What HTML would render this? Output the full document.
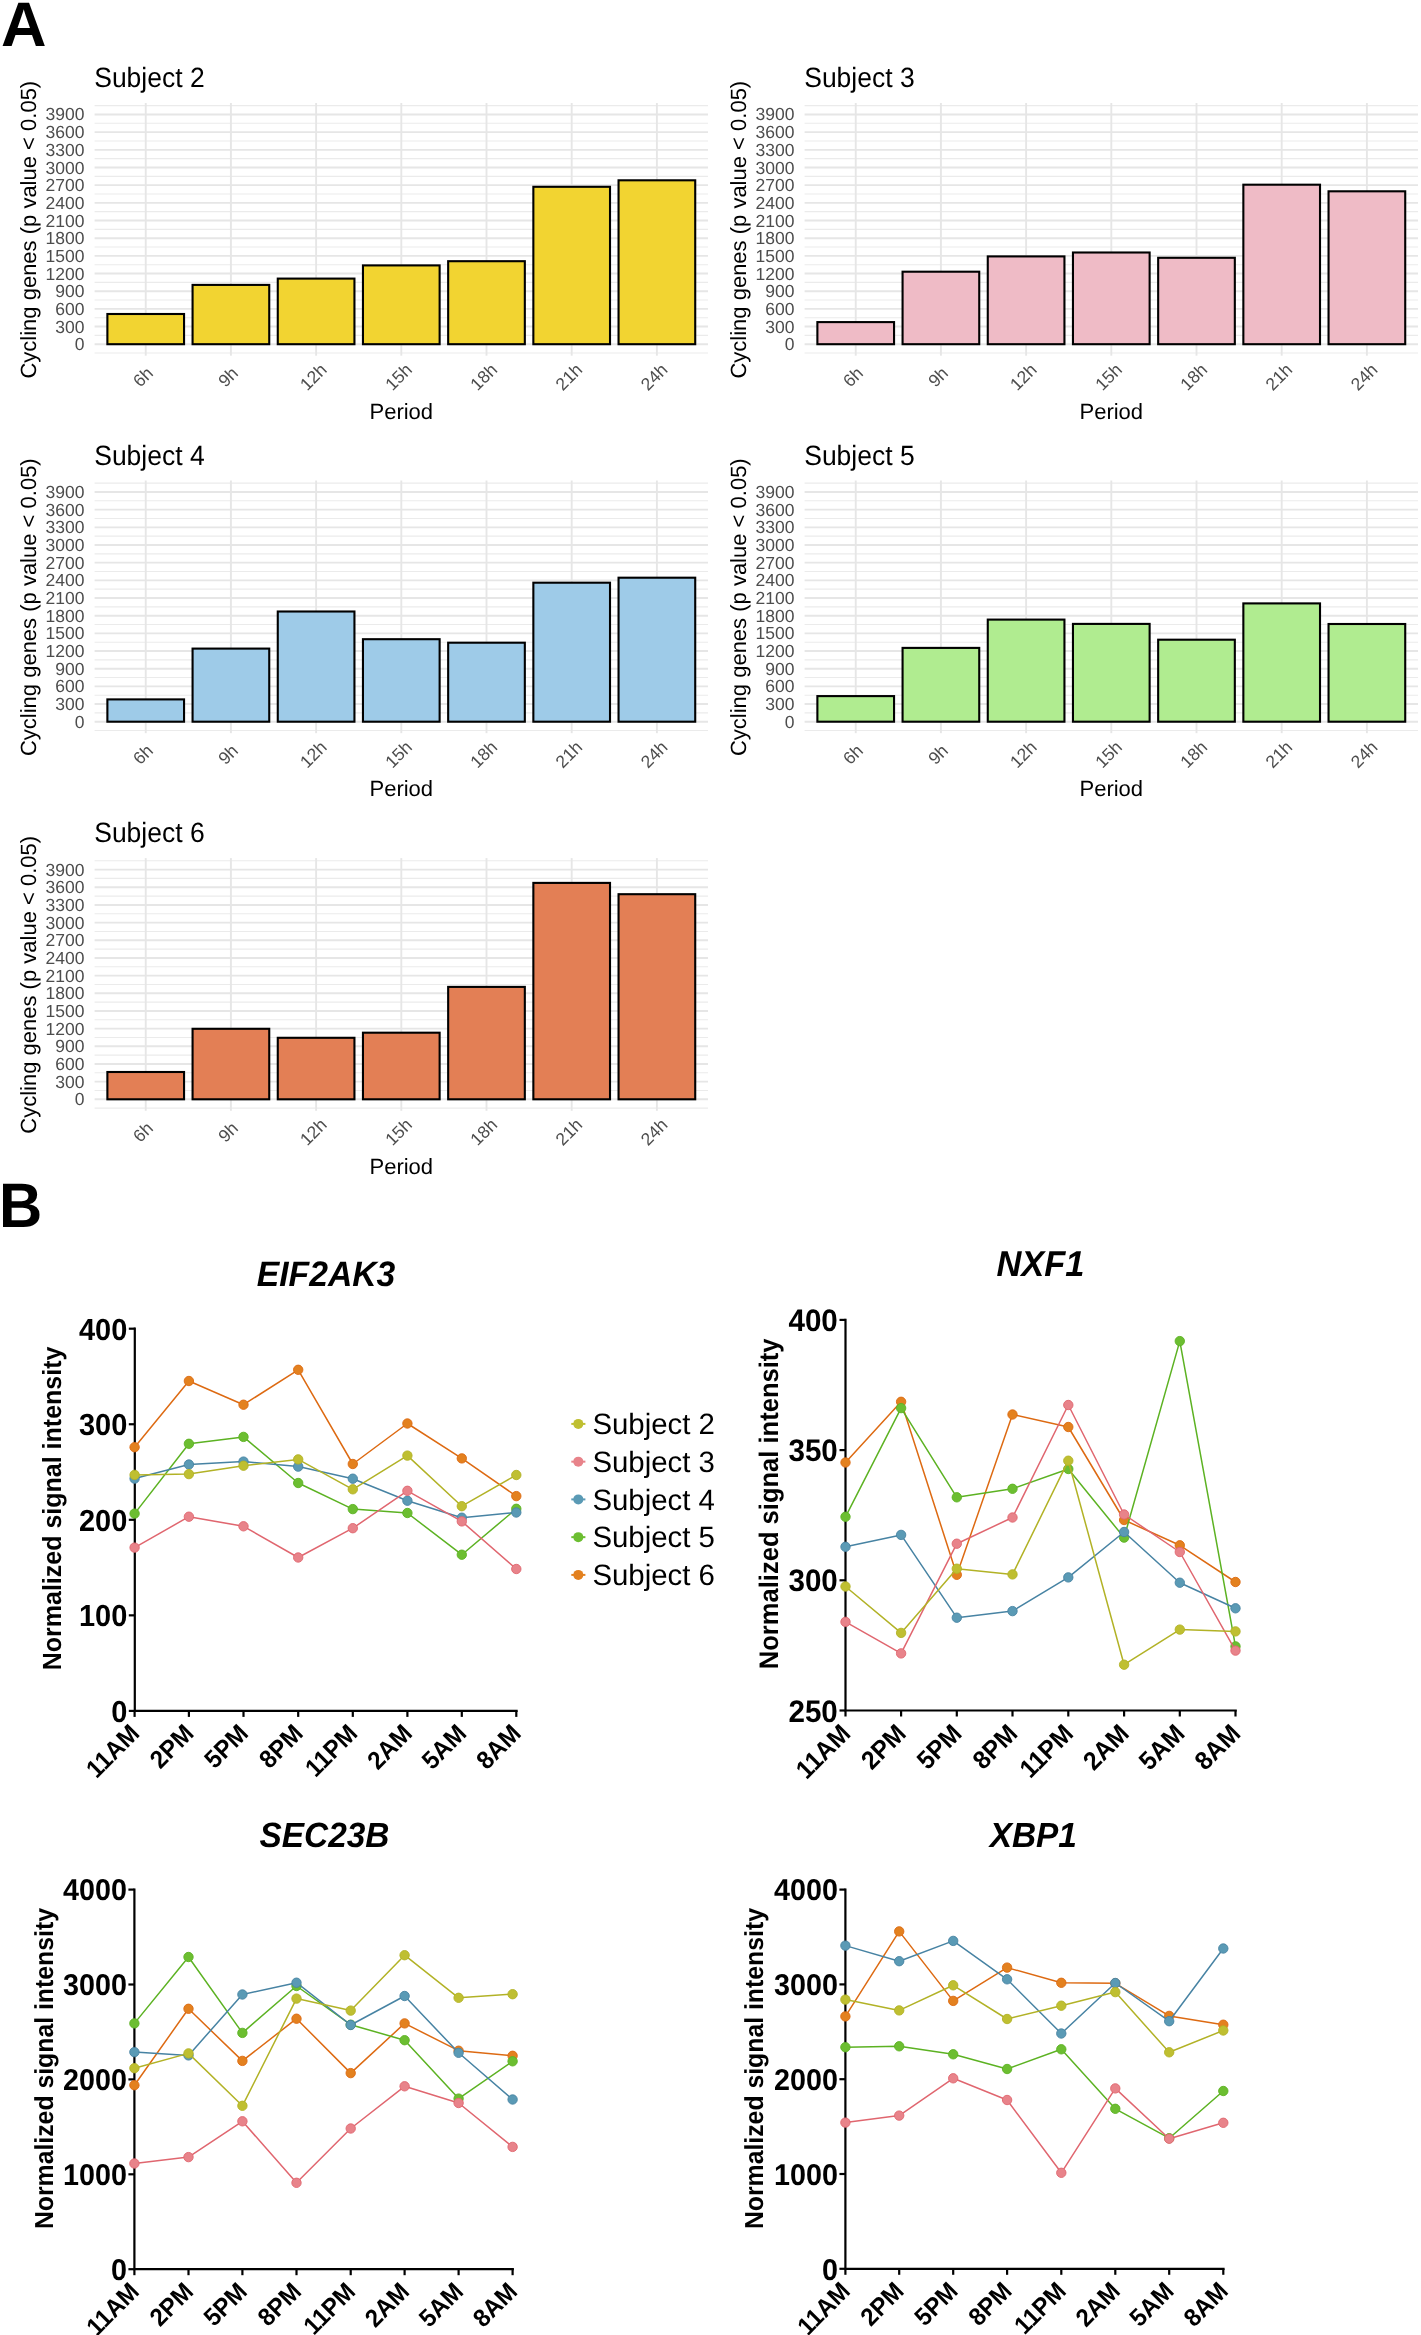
<!DOCTYPE html>
<html><head><meta charset="utf-8"><style>
html,body{margin:0;padding:0;background:#fff;}
svg{display:block;font-family:"Liberation Sans", sans-serif;will-change:transform;text-rendering:geometricPrecision;}
</style></head><body>
<svg width="1421" height="2335" viewBox="0 0 1421 2335">
<rect width="1421" height="2335" fill="#fff"/>
<g transform="translate(0,0)">
<line x1="94.6" x2="708.0" y1="353.03" y2="353.03" stroke="#EBEBEB" stroke-width="1.1"/>
<line x1="94.6" x2="708.0" y1="335.37" y2="335.37" stroke="#EBEBEB" stroke-width="1.1"/>
<line x1="94.6" x2="708.0" y1="317.69" y2="317.69" stroke="#EBEBEB" stroke-width="1.1"/>
<line x1="94.6" x2="708.0" y1="300.02" y2="300.02" stroke="#EBEBEB" stroke-width="1.1"/>
<line x1="94.6" x2="708.0" y1="282.36" y2="282.36" stroke="#EBEBEB" stroke-width="1.1"/>
<line x1="94.6" x2="708.0" y1="264.69" y2="264.69" stroke="#EBEBEB" stroke-width="1.1"/>
<line x1="94.6" x2="708.0" y1="247.01" y2="247.01" stroke="#EBEBEB" stroke-width="1.1"/>
<line x1="94.6" x2="708.0" y1="229.34" y2="229.34" stroke="#EBEBEB" stroke-width="1.1"/>
<line x1="94.6" x2="708.0" y1="211.67" y2="211.67" stroke="#EBEBEB" stroke-width="1.1"/>
<line x1="94.6" x2="708.0" y1="194.00" y2="194.00" stroke="#EBEBEB" stroke-width="1.1"/>
<line x1="94.6" x2="708.0" y1="176.33" y2="176.33" stroke="#EBEBEB" stroke-width="1.1"/>
<line x1="94.6" x2="708.0" y1="158.66" y2="158.66" stroke="#EBEBEB" stroke-width="1.1"/>
<line x1="94.6" x2="708.0" y1="140.99" y2="140.99" stroke="#EBEBEB" stroke-width="1.1"/>
<line x1="94.6" x2="708.0" y1="123.32" y2="123.32" stroke="#EBEBEB" stroke-width="1.1"/>
<line x1="94.6" x2="708.0" y1="105.65" y2="105.65" stroke="#EBEBEB" stroke-width="1.1"/>
<line x1="94.6" x2="708.0" y1="344.20" y2="344.20" stroke="#E6E6E6" stroke-width="1.9"/>
<line x1="94.6" x2="708.0" y1="326.53" y2="326.53" stroke="#E6E6E6" stroke-width="1.9"/>
<line x1="94.6" x2="708.0" y1="308.86" y2="308.86" stroke="#E6E6E6" stroke-width="1.9"/>
<line x1="94.6" x2="708.0" y1="291.19" y2="291.19" stroke="#E6E6E6" stroke-width="1.9"/>
<line x1="94.6" x2="708.0" y1="273.52" y2="273.52" stroke="#E6E6E6" stroke-width="1.9"/>
<line x1="94.6" x2="708.0" y1="255.85" y2="255.85" stroke="#E6E6E6" stroke-width="1.9"/>
<line x1="94.6" x2="708.0" y1="238.18" y2="238.18" stroke="#E6E6E6" stroke-width="1.9"/>
<line x1="94.6" x2="708.0" y1="220.51" y2="220.51" stroke="#E6E6E6" stroke-width="1.9"/>
<line x1="94.6" x2="708.0" y1="202.84" y2="202.84" stroke="#E6E6E6" stroke-width="1.9"/>
<line x1="94.6" x2="708.0" y1="185.17" y2="185.17" stroke="#E6E6E6" stroke-width="1.9"/>
<line x1="94.6" x2="708.0" y1="167.50" y2="167.50" stroke="#E6E6E6" stroke-width="1.9"/>
<line x1="94.6" x2="708.0" y1="149.83" y2="149.83" stroke="#E6E6E6" stroke-width="1.9"/>
<line x1="94.6" x2="708.0" y1="132.16" y2="132.16" stroke="#E6E6E6" stroke-width="1.9"/>
<line x1="94.6" x2="708.0" y1="114.49" y2="114.49" stroke="#E6E6E6" stroke-width="1.9"/>
<line x1="145.72" x2="145.72" y1="103.00" y2="355.69" stroke="#E6E6E6" stroke-width="1.9"/>
<line x1="230.91" x2="230.91" y1="103.00" y2="355.69" stroke="#E6E6E6" stroke-width="1.9"/>
<line x1="316.11" x2="316.11" y1="103.00" y2="355.69" stroke="#E6E6E6" stroke-width="1.9"/>
<line x1="401.30" x2="401.30" y1="103.00" y2="355.69" stroke="#E6E6E6" stroke-width="1.9"/>
<line x1="486.49" x2="486.49" y1="103.00" y2="355.69" stroke="#E6E6E6" stroke-width="1.9"/>
<line x1="571.69" x2="571.69" y1="103.00" y2="355.69" stroke="#E6E6E6" stroke-width="1.9"/>
<line x1="656.88" x2="656.88" y1="103.00" y2="355.69" stroke="#E6E6E6" stroke-width="1.9"/>
<rect x="107.38" y="314.00" width="76.67" height="30.20" fill="#F2D431" stroke="#000" stroke-width="2.1"/>
<rect x="192.57" y="284.90" width="76.67" height="59.30" fill="#F2D431" stroke="#000" stroke-width="2.1"/>
<rect x="277.77" y="278.60" width="76.67" height="65.60" fill="#F2D431" stroke="#000" stroke-width="2.1"/>
<rect x="362.96" y="265.40" width="76.67" height="78.80" fill="#F2D431" stroke="#000" stroke-width="2.1"/>
<rect x="448.16" y="261.20" width="76.67" height="83.00" fill="#F2D431" stroke="#000" stroke-width="2.1"/>
<rect x="533.35" y="186.80" width="76.67" height="157.40" fill="#F2D431" stroke="#000" stroke-width="2.1"/>
<rect x="618.55" y="180.30" width="76.67" height="163.90" fill="#F2D431" stroke="#000" stroke-width="2.1"/>
<text x="84.5" y="350.20" text-anchor="end" font-size="17.5" fill="#4D4D4D">0</text>
<text x="84.5" y="332.53" text-anchor="end" font-size="17.5" fill="#4D4D4D">300</text>
<text x="84.5" y="314.86" text-anchor="end" font-size="17.5" fill="#4D4D4D">600</text>
<text x="84.5" y="297.19" text-anchor="end" font-size="17.5" fill="#4D4D4D">900</text>
<text x="84.5" y="279.52" text-anchor="end" font-size="17.5" fill="#4D4D4D">1200</text>
<text x="84.5" y="261.85" text-anchor="end" font-size="17.5" fill="#4D4D4D">1500</text>
<text x="84.5" y="244.18" text-anchor="end" font-size="17.5" fill="#4D4D4D">1800</text>
<text x="84.5" y="226.51" text-anchor="end" font-size="17.5" fill="#4D4D4D">2100</text>
<text x="84.5" y="208.84" text-anchor="end" font-size="17.5" fill="#4D4D4D">2400</text>
<text x="84.5" y="191.17" text-anchor="end" font-size="17.5" fill="#4D4D4D">2700</text>
<text x="84.5" y="173.50" text-anchor="end" font-size="17.5" fill="#4D4D4D">3000</text>
<text x="84.5" y="155.83" text-anchor="end" font-size="17.5" fill="#4D4D4D">3300</text>
<text x="84.5" y="138.16" text-anchor="end" font-size="17.5" fill="#4D4D4D">3600</text>
<text x="84.5" y="120.49" text-anchor="end" font-size="17.5" fill="#4D4D4D">3900</text>
<text transform="translate(142.92,376.9) rotate(-45)" text-anchor="middle" dominant-baseline="central" font-size="17.5" fill="#4D4D4D">6h</text>
<text transform="translate(228.11,376.9) rotate(-45)" text-anchor="middle" dominant-baseline="central" font-size="17.5" fill="#4D4D4D">9h</text>
<text transform="translate(313.31,376.9) rotate(-45)" text-anchor="middle" dominant-baseline="central" font-size="17.5" fill="#4D4D4D">12h</text>
<text transform="translate(398.50,376.9) rotate(-45)" text-anchor="middle" dominant-baseline="central" font-size="17.5" fill="#4D4D4D">15h</text>
<text transform="translate(483.69,376.9) rotate(-45)" text-anchor="middle" dominant-baseline="central" font-size="17.5" fill="#4D4D4D">18h</text>
<text transform="translate(568.89,376.9) rotate(-45)" text-anchor="middle" dominant-baseline="central" font-size="17.5" fill="#4D4D4D">21h</text>
<text transform="translate(654.08,376.9) rotate(-45)" text-anchor="middle" dominant-baseline="central" font-size="17.5" fill="#4D4D4D">24h</text>
<text x="401.3" y="418.5" text-anchor="middle" font-size="22" fill="#000">Period</text>
<text transform="translate(36.2,229.7) rotate(-90)" text-anchor="middle" font-size="22" fill="#000">Cycling genes (p value &lt; 0.05)</text>
<text transform="translate(94.2,87) scale(1,1.05)" font-size="26.5" fill="#000">Subject 2</text>
</g>
<g transform="translate(710,0)">
<line x1="94.6" x2="708.0" y1="353.03" y2="353.03" stroke="#EBEBEB" stroke-width="1.1"/>
<line x1="94.6" x2="708.0" y1="335.37" y2="335.37" stroke="#EBEBEB" stroke-width="1.1"/>
<line x1="94.6" x2="708.0" y1="317.69" y2="317.69" stroke="#EBEBEB" stroke-width="1.1"/>
<line x1="94.6" x2="708.0" y1="300.02" y2="300.02" stroke="#EBEBEB" stroke-width="1.1"/>
<line x1="94.6" x2="708.0" y1="282.36" y2="282.36" stroke="#EBEBEB" stroke-width="1.1"/>
<line x1="94.6" x2="708.0" y1="264.69" y2="264.69" stroke="#EBEBEB" stroke-width="1.1"/>
<line x1="94.6" x2="708.0" y1="247.01" y2="247.01" stroke="#EBEBEB" stroke-width="1.1"/>
<line x1="94.6" x2="708.0" y1="229.34" y2="229.34" stroke="#EBEBEB" stroke-width="1.1"/>
<line x1="94.6" x2="708.0" y1="211.67" y2="211.67" stroke="#EBEBEB" stroke-width="1.1"/>
<line x1="94.6" x2="708.0" y1="194.00" y2="194.00" stroke="#EBEBEB" stroke-width="1.1"/>
<line x1="94.6" x2="708.0" y1="176.33" y2="176.33" stroke="#EBEBEB" stroke-width="1.1"/>
<line x1="94.6" x2="708.0" y1="158.66" y2="158.66" stroke="#EBEBEB" stroke-width="1.1"/>
<line x1="94.6" x2="708.0" y1="140.99" y2="140.99" stroke="#EBEBEB" stroke-width="1.1"/>
<line x1="94.6" x2="708.0" y1="123.32" y2="123.32" stroke="#EBEBEB" stroke-width="1.1"/>
<line x1="94.6" x2="708.0" y1="105.65" y2="105.65" stroke="#EBEBEB" stroke-width="1.1"/>
<line x1="94.6" x2="708.0" y1="344.20" y2="344.20" stroke="#E6E6E6" stroke-width="1.9"/>
<line x1="94.6" x2="708.0" y1="326.53" y2="326.53" stroke="#E6E6E6" stroke-width="1.9"/>
<line x1="94.6" x2="708.0" y1="308.86" y2="308.86" stroke="#E6E6E6" stroke-width="1.9"/>
<line x1="94.6" x2="708.0" y1="291.19" y2="291.19" stroke="#E6E6E6" stroke-width="1.9"/>
<line x1="94.6" x2="708.0" y1="273.52" y2="273.52" stroke="#E6E6E6" stroke-width="1.9"/>
<line x1="94.6" x2="708.0" y1="255.85" y2="255.85" stroke="#E6E6E6" stroke-width="1.9"/>
<line x1="94.6" x2="708.0" y1="238.18" y2="238.18" stroke="#E6E6E6" stroke-width="1.9"/>
<line x1="94.6" x2="708.0" y1="220.51" y2="220.51" stroke="#E6E6E6" stroke-width="1.9"/>
<line x1="94.6" x2="708.0" y1="202.84" y2="202.84" stroke="#E6E6E6" stroke-width="1.9"/>
<line x1="94.6" x2="708.0" y1="185.17" y2="185.17" stroke="#E6E6E6" stroke-width="1.9"/>
<line x1="94.6" x2="708.0" y1="167.50" y2="167.50" stroke="#E6E6E6" stroke-width="1.9"/>
<line x1="94.6" x2="708.0" y1="149.83" y2="149.83" stroke="#E6E6E6" stroke-width="1.9"/>
<line x1="94.6" x2="708.0" y1="132.16" y2="132.16" stroke="#E6E6E6" stroke-width="1.9"/>
<line x1="94.6" x2="708.0" y1="114.49" y2="114.49" stroke="#E6E6E6" stroke-width="1.9"/>
<line x1="145.72" x2="145.72" y1="103.00" y2="355.69" stroke="#E6E6E6" stroke-width="1.9"/>
<line x1="230.91" x2="230.91" y1="103.00" y2="355.69" stroke="#E6E6E6" stroke-width="1.9"/>
<line x1="316.11" x2="316.11" y1="103.00" y2="355.69" stroke="#E6E6E6" stroke-width="1.9"/>
<line x1="401.30" x2="401.30" y1="103.00" y2="355.69" stroke="#E6E6E6" stroke-width="1.9"/>
<line x1="486.49" x2="486.49" y1="103.00" y2="355.69" stroke="#E6E6E6" stroke-width="1.9"/>
<line x1="571.69" x2="571.69" y1="103.00" y2="355.69" stroke="#E6E6E6" stroke-width="1.9"/>
<line x1="656.88" x2="656.88" y1="103.00" y2="355.69" stroke="#E6E6E6" stroke-width="1.9"/>
<rect x="107.38" y="322.10" width="76.67" height="22.10" fill="#EFBBC6" stroke="#000" stroke-width="2.1"/>
<rect x="192.57" y="271.70" width="76.67" height="72.50" fill="#EFBBC6" stroke="#000" stroke-width="2.1"/>
<rect x="277.77" y="256.40" width="76.67" height="87.80" fill="#EFBBC6" stroke="#000" stroke-width="2.1"/>
<rect x="362.96" y="252.50" width="76.67" height="91.70" fill="#EFBBC6" stroke="#000" stroke-width="2.1"/>
<rect x="448.16" y="257.80" width="76.67" height="86.40" fill="#EFBBC6" stroke="#000" stroke-width="2.1"/>
<rect x="533.35" y="184.70" width="76.67" height="159.50" fill="#EFBBC6" stroke="#000" stroke-width="2.1"/>
<rect x="618.55" y="191.30" width="76.67" height="152.90" fill="#EFBBC6" stroke="#000" stroke-width="2.1"/>
<text x="84.5" y="350.20" text-anchor="end" font-size="17.5" fill="#4D4D4D">0</text>
<text x="84.5" y="332.53" text-anchor="end" font-size="17.5" fill="#4D4D4D">300</text>
<text x="84.5" y="314.86" text-anchor="end" font-size="17.5" fill="#4D4D4D">600</text>
<text x="84.5" y="297.19" text-anchor="end" font-size="17.5" fill="#4D4D4D">900</text>
<text x="84.5" y="279.52" text-anchor="end" font-size="17.5" fill="#4D4D4D">1200</text>
<text x="84.5" y="261.85" text-anchor="end" font-size="17.5" fill="#4D4D4D">1500</text>
<text x="84.5" y="244.18" text-anchor="end" font-size="17.5" fill="#4D4D4D">1800</text>
<text x="84.5" y="226.51" text-anchor="end" font-size="17.5" fill="#4D4D4D">2100</text>
<text x="84.5" y="208.84" text-anchor="end" font-size="17.5" fill="#4D4D4D">2400</text>
<text x="84.5" y="191.17" text-anchor="end" font-size="17.5" fill="#4D4D4D">2700</text>
<text x="84.5" y="173.50" text-anchor="end" font-size="17.5" fill="#4D4D4D">3000</text>
<text x="84.5" y="155.83" text-anchor="end" font-size="17.5" fill="#4D4D4D">3300</text>
<text x="84.5" y="138.16" text-anchor="end" font-size="17.5" fill="#4D4D4D">3600</text>
<text x="84.5" y="120.49" text-anchor="end" font-size="17.5" fill="#4D4D4D">3900</text>
<text transform="translate(142.92,376.9) rotate(-45)" text-anchor="middle" dominant-baseline="central" font-size="17.5" fill="#4D4D4D">6h</text>
<text transform="translate(228.11,376.9) rotate(-45)" text-anchor="middle" dominant-baseline="central" font-size="17.5" fill="#4D4D4D">9h</text>
<text transform="translate(313.31,376.9) rotate(-45)" text-anchor="middle" dominant-baseline="central" font-size="17.5" fill="#4D4D4D">12h</text>
<text transform="translate(398.50,376.9) rotate(-45)" text-anchor="middle" dominant-baseline="central" font-size="17.5" fill="#4D4D4D">15h</text>
<text transform="translate(483.69,376.9) rotate(-45)" text-anchor="middle" dominant-baseline="central" font-size="17.5" fill="#4D4D4D">18h</text>
<text transform="translate(568.89,376.9) rotate(-45)" text-anchor="middle" dominant-baseline="central" font-size="17.5" fill="#4D4D4D">21h</text>
<text transform="translate(654.08,376.9) rotate(-45)" text-anchor="middle" dominant-baseline="central" font-size="17.5" fill="#4D4D4D">24h</text>
<text x="401.3" y="418.5" text-anchor="middle" font-size="22" fill="#000">Period</text>
<text transform="translate(36.2,229.7) rotate(-90)" text-anchor="middle" font-size="22" fill="#000">Cycling genes (p value &lt; 0.05)</text>
<text transform="translate(94.2,87) scale(1,1.05)" font-size="26.5" fill="#000">Subject 3</text>
</g>
<g transform="translate(0,377.5)">
<line x1="94.6" x2="708.0" y1="353.03" y2="353.03" stroke="#EBEBEB" stroke-width="1.1"/>
<line x1="94.6" x2="708.0" y1="335.37" y2="335.37" stroke="#EBEBEB" stroke-width="1.1"/>
<line x1="94.6" x2="708.0" y1="317.69" y2="317.69" stroke="#EBEBEB" stroke-width="1.1"/>
<line x1="94.6" x2="708.0" y1="300.02" y2="300.02" stroke="#EBEBEB" stroke-width="1.1"/>
<line x1="94.6" x2="708.0" y1="282.36" y2="282.36" stroke="#EBEBEB" stroke-width="1.1"/>
<line x1="94.6" x2="708.0" y1="264.69" y2="264.69" stroke="#EBEBEB" stroke-width="1.1"/>
<line x1="94.6" x2="708.0" y1="247.01" y2="247.01" stroke="#EBEBEB" stroke-width="1.1"/>
<line x1="94.6" x2="708.0" y1="229.34" y2="229.34" stroke="#EBEBEB" stroke-width="1.1"/>
<line x1="94.6" x2="708.0" y1="211.67" y2="211.67" stroke="#EBEBEB" stroke-width="1.1"/>
<line x1="94.6" x2="708.0" y1="194.00" y2="194.00" stroke="#EBEBEB" stroke-width="1.1"/>
<line x1="94.6" x2="708.0" y1="176.33" y2="176.33" stroke="#EBEBEB" stroke-width="1.1"/>
<line x1="94.6" x2="708.0" y1="158.66" y2="158.66" stroke="#EBEBEB" stroke-width="1.1"/>
<line x1="94.6" x2="708.0" y1="140.99" y2="140.99" stroke="#EBEBEB" stroke-width="1.1"/>
<line x1="94.6" x2="708.0" y1="123.32" y2="123.32" stroke="#EBEBEB" stroke-width="1.1"/>
<line x1="94.6" x2="708.0" y1="105.65" y2="105.65" stroke="#EBEBEB" stroke-width="1.1"/>
<line x1="94.6" x2="708.0" y1="344.20" y2="344.20" stroke="#E6E6E6" stroke-width="1.9"/>
<line x1="94.6" x2="708.0" y1="326.53" y2="326.53" stroke="#E6E6E6" stroke-width="1.9"/>
<line x1="94.6" x2="708.0" y1="308.86" y2="308.86" stroke="#E6E6E6" stroke-width="1.9"/>
<line x1="94.6" x2="708.0" y1="291.19" y2="291.19" stroke="#E6E6E6" stroke-width="1.9"/>
<line x1="94.6" x2="708.0" y1="273.52" y2="273.52" stroke="#E6E6E6" stroke-width="1.9"/>
<line x1="94.6" x2="708.0" y1="255.85" y2="255.85" stroke="#E6E6E6" stroke-width="1.9"/>
<line x1="94.6" x2="708.0" y1="238.18" y2="238.18" stroke="#E6E6E6" stroke-width="1.9"/>
<line x1="94.6" x2="708.0" y1="220.51" y2="220.51" stroke="#E6E6E6" stroke-width="1.9"/>
<line x1="94.6" x2="708.0" y1="202.84" y2="202.84" stroke="#E6E6E6" stroke-width="1.9"/>
<line x1="94.6" x2="708.0" y1="185.17" y2="185.17" stroke="#E6E6E6" stroke-width="1.9"/>
<line x1="94.6" x2="708.0" y1="167.50" y2="167.50" stroke="#E6E6E6" stroke-width="1.9"/>
<line x1="94.6" x2="708.0" y1="149.83" y2="149.83" stroke="#E6E6E6" stroke-width="1.9"/>
<line x1="94.6" x2="708.0" y1="132.16" y2="132.16" stroke="#E6E6E6" stroke-width="1.9"/>
<line x1="94.6" x2="708.0" y1="114.49" y2="114.49" stroke="#E6E6E6" stroke-width="1.9"/>
<line x1="145.72" x2="145.72" y1="103.00" y2="355.69" stroke="#E6E6E6" stroke-width="1.9"/>
<line x1="230.91" x2="230.91" y1="103.00" y2="355.69" stroke="#E6E6E6" stroke-width="1.9"/>
<line x1="316.11" x2="316.11" y1="103.00" y2="355.69" stroke="#E6E6E6" stroke-width="1.9"/>
<line x1="401.30" x2="401.30" y1="103.00" y2="355.69" stroke="#E6E6E6" stroke-width="1.9"/>
<line x1="486.49" x2="486.49" y1="103.00" y2="355.69" stroke="#E6E6E6" stroke-width="1.9"/>
<line x1="571.69" x2="571.69" y1="103.00" y2="355.69" stroke="#E6E6E6" stroke-width="1.9"/>
<line x1="656.88" x2="656.88" y1="103.00" y2="355.69" stroke="#E6E6E6" stroke-width="1.9"/>
<rect x="107.38" y="321.90" width="76.67" height="22.30" fill="#9ECBE8" stroke="#000" stroke-width="2.1"/>
<rect x="192.57" y="271.10" width="76.67" height="73.10" fill="#9ECBE8" stroke="#000" stroke-width="2.1"/>
<rect x="277.77" y="234.00" width="76.67" height="110.20" fill="#9ECBE8" stroke="#000" stroke-width="2.1"/>
<rect x="362.96" y="261.70" width="76.67" height="82.50" fill="#9ECBE8" stroke="#000" stroke-width="2.1"/>
<rect x="448.16" y="265.20" width="76.67" height="79.00" fill="#9ECBE8" stroke="#000" stroke-width="2.1"/>
<rect x="533.35" y="205.20" width="76.67" height="139.00" fill="#9ECBE8" stroke="#000" stroke-width="2.1"/>
<rect x="618.55" y="200.20" width="76.67" height="144.00" fill="#9ECBE8" stroke="#000" stroke-width="2.1"/>
<text x="84.5" y="350.20" text-anchor="end" font-size="17.5" fill="#4D4D4D">0</text>
<text x="84.5" y="332.53" text-anchor="end" font-size="17.5" fill="#4D4D4D">300</text>
<text x="84.5" y="314.86" text-anchor="end" font-size="17.5" fill="#4D4D4D">600</text>
<text x="84.5" y="297.19" text-anchor="end" font-size="17.5" fill="#4D4D4D">900</text>
<text x="84.5" y="279.52" text-anchor="end" font-size="17.5" fill="#4D4D4D">1200</text>
<text x="84.5" y="261.85" text-anchor="end" font-size="17.5" fill="#4D4D4D">1500</text>
<text x="84.5" y="244.18" text-anchor="end" font-size="17.5" fill="#4D4D4D">1800</text>
<text x="84.5" y="226.51" text-anchor="end" font-size="17.5" fill="#4D4D4D">2100</text>
<text x="84.5" y="208.84" text-anchor="end" font-size="17.5" fill="#4D4D4D">2400</text>
<text x="84.5" y="191.17" text-anchor="end" font-size="17.5" fill="#4D4D4D">2700</text>
<text x="84.5" y="173.50" text-anchor="end" font-size="17.5" fill="#4D4D4D">3000</text>
<text x="84.5" y="155.83" text-anchor="end" font-size="17.5" fill="#4D4D4D">3300</text>
<text x="84.5" y="138.16" text-anchor="end" font-size="17.5" fill="#4D4D4D">3600</text>
<text x="84.5" y="120.49" text-anchor="end" font-size="17.5" fill="#4D4D4D">3900</text>
<text transform="translate(142.92,376.9) rotate(-45)" text-anchor="middle" dominant-baseline="central" font-size="17.5" fill="#4D4D4D">6h</text>
<text transform="translate(228.11,376.9) rotate(-45)" text-anchor="middle" dominant-baseline="central" font-size="17.5" fill="#4D4D4D">9h</text>
<text transform="translate(313.31,376.9) rotate(-45)" text-anchor="middle" dominant-baseline="central" font-size="17.5" fill="#4D4D4D">12h</text>
<text transform="translate(398.50,376.9) rotate(-45)" text-anchor="middle" dominant-baseline="central" font-size="17.5" fill="#4D4D4D">15h</text>
<text transform="translate(483.69,376.9) rotate(-45)" text-anchor="middle" dominant-baseline="central" font-size="17.5" fill="#4D4D4D">18h</text>
<text transform="translate(568.89,376.9) rotate(-45)" text-anchor="middle" dominant-baseline="central" font-size="17.5" fill="#4D4D4D">21h</text>
<text transform="translate(654.08,376.9) rotate(-45)" text-anchor="middle" dominant-baseline="central" font-size="17.5" fill="#4D4D4D">24h</text>
<text x="401.3" y="418.5" text-anchor="middle" font-size="22" fill="#000">Period</text>
<text transform="translate(36.2,229.7) rotate(-90)" text-anchor="middle" font-size="22" fill="#000">Cycling genes (p value &lt; 0.05)</text>
<text transform="translate(94.2,87) scale(1,1.05)" font-size="26.5" fill="#000">Subject 4</text>
</g>
<g transform="translate(710,377.5)">
<line x1="94.6" x2="708.0" y1="353.03" y2="353.03" stroke="#EBEBEB" stroke-width="1.1"/>
<line x1="94.6" x2="708.0" y1="335.37" y2="335.37" stroke="#EBEBEB" stroke-width="1.1"/>
<line x1="94.6" x2="708.0" y1="317.69" y2="317.69" stroke="#EBEBEB" stroke-width="1.1"/>
<line x1="94.6" x2="708.0" y1="300.02" y2="300.02" stroke="#EBEBEB" stroke-width="1.1"/>
<line x1="94.6" x2="708.0" y1="282.36" y2="282.36" stroke="#EBEBEB" stroke-width="1.1"/>
<line x1="94.6" x2="708.0" y1="264.69" y2="264.69" stroke="#EBEBEB" stroke-width="1.1"/>
<line x1="94.6" x2="708.0" y1="247.01" y2="247.01" stroke="#EBEBEB" stroke-width="1.1"/>
<line x1="94.6" x2="708.0" y1="229.34" y2="229.34" stroke="#EBEBEB" stroke-width="1.1"/>
<line x1="94.6" x2="708.0" y1="211.67" y2="211.67" stroke="#EBEBEB" stroke-width="1.1"/>
<line x1="94.6" x2="708.0" y1="194.00" y2="194.00" stroke="#EBEBEB" stroke-width="1.1"/>
<line x1="94.6" x2="708.0" y1="176.33" y2="176.33" stroke="#EBEBEB" stroke-width="1.1"/>
<line x1="94.6" x2="708.0" y1="158.66" y2="158.66" stroke="#EBEBEB" stroke-width="1.1"/>
<line x1="94.6" x2="708.0" y1="140.99" y2="140.99" stroke="#EBEBEB" stroke-width="1.1"/>
<line x1="94.6" x2="708.0" y1="123.32" y2="123.32" stroke="#EBEBEB" stroke-width="1.1"/>
<line x1="94.6" x2="708.0" y1="105.65" y2="105.65" stroke="#EBEBEB" stroke-width="1.1"/>
<line x1="94.6" x2="708.0" y1="344.20" y2="344.20" stroke="#E6E6E6" stroke-width="1.9"/>
<line x1="94.6" x2="708.0" y1="326.53" y2="326.53" stroke="#E6E6E6" stroke-width="1.9"/>
<line x1="94.6" x2="708.0" y1="308.86" y2="308.86" stroke="#E6E6E6" stroke-width="1.9"/>
<line x1="94.6" x2="708.0" y1="291.19" y2="291.19" stroke="#E6E6E6" stroke-width="1.9"/>
<line x1="94.6" x2="708.0" y1="273.52" y2="273.52" stroke="#E6E6E6" stroke-width="1.9"/>
<line x1="94.6" x2="708.0" y1="255.85" y2="255.85" stroke="#E6E6E6" stroke-width="1.9"/>
<line x1="94.6" x2="708.0" y1="238.18" y2="238.18" stroke="#E6E6E6" stroke-width="1.9"/>
<line x1="94.6" x2="708.0" y1="220.51" y2="220.51" stroke="#E6E6E6" stroke-width="1.9"/>
<line x1="94.6" x2="708.0" y1="202.84" y2="202.84" stroke="#E6E6E6" stroke-width="1.9"/>
<line x1="94.6" x2="708.0" y1="185.17" y2="185.17" stroke="#E6E6E6" stroke-width="1.9"/>
<line x1="94.6" x2="708.0" y1="167.50" y2="167.50" stroke="#E6E6E6" stroke-width="1.9"/>
<line x1="94.6" x2="708.0" y1="149.83" y2="149.83" stroke="#E6E6E6" stroke-width="1.9"/>
<line x1="94.6" x2="708.0" y1="132.16" y2="132.16" stroke="#E6E6E6" stroke-width="1.9"/>
<line x1="94.6" x2="708.0" y1="114.49" y2="114.49" stroke="#E6E6E6" stroke-width="1.9"/>
<line x1="145.72" x2="145.72" y1="103.00" y2="355.69" stroke="#E6E6E6" stroke-width="1.9"/>
<line x1="230.91" x2="230.91" y1="103.00" y2="355.69" stroke="#E6E6E6" stroke-width="1.9"/>
<line x1="316.11" x2="316.11" y1="103.00" y2="355.69" stroke="#E6E6E6" stroke-width="1.9"/>
<line x1="401.30" x2="401.30" y1="103.00" y2="355.69" stroke="#E6E6E6" stroke-width="1.9"/>
<line x1="486.49" x2="486.49" y1="103.00" y2="355.69" stroke="#E6E6E6" stroke-width="1.9"/>
<line x1="571.69" x2="571.69" y1="103.00" y2="355.69" stroke="#E6E6E6" stroke-width="1.9"/>
<line x1="656.88" x2="656.88" y1="103.00" y2="355.69" stroke="#E6E6E6" stroke-width="1.9"/>
<rect x="107.38" y="318.60" width="76.67" height="25.60" fill="#B0EC90" stroke="#000" stroke-width="2.1"/>
<rect x="192.57" y="270.40" width="76.67" height="73.80" fill="#B0EC90" stroke="#000" stroke-width="2.1"/>
<rect x="277.77" y="242.10" width="76.67" height="102.10" fill="#B0EC90" stroke="#000" stroke-width="2.1"/>
<rect x="362.96" y="246.40" width="76.67" height="97.80" fill="#B0EC90" stroke="#000" stroke-width="2.1"/>
<rect x="448.16" y="262.20" width="76.67" height="82.00" fill="#B0EC90" stroke="#000" stroke-width="2.1"/>
<rect x="533.35" y="225.90" width="76.67" height="118.30" fill="#B0EC90" stroke="#000" stroke-width="2.1"/>
<rect x="618.55" y="246.50" width="76.67" height="97.70" fill="#B0EC90" stroke="#000" stroke-width="2.1"/>
<text x="84.5" y="350.20" text-anchor="end" font-size="17.5" fill="#4D4D4D">0</text>
<text x="84.5" y="332.53" text-anchor="end" font-size="17.5" fill="#4D4D4D">300</text>
<text x="84.5" y="314.86" text-anchor="end" font-size="17.5" fill="#4D4D4D">600</text>
<text x="84.5" y="297.19" text-anchor="end" font-size="17.5" fill="#4D4D4D">900</text>
<text x="84.5" y="279.52" text-anchor="end" font-size="17.5" fill="#4D4D4D">1200</text>
<text x="84.5" y="261.85" text-anchor="end" font-size="17.5" fill="#4D4D4D">1500</text>
<text x="84.5" y="244.18" text-anchor="end" font-size="17.5" fill="#4D4D4D">1800</text>
<text x="84.5" y="226.51" text-anchor="end" font-size="17.5" fill="#4D4D4D">2100</text>
<text x="84.5" y="208.84" text-anchor="end" font-size="17.5" fill="#4D4D4D">2400</text>
<text x="84.5" y="191.17" text-anchor="end" font-size="17.5" fill="#4D4D4D">2700</text>
<text x="84.5" y="173.50" text-anchor="end" font-size="17.5" fill="#4D4D4D">3000</text>
<text x="84.5" y="155.83" text-anchor="end" font-size="17.5" fill="#4D4D4D">3300</text>
<text x="84.5" y="138.16" text-anchor="end" font-size="17.5" fill="#4D4D4D">3600</text>
<text x="84.5" y="120.49" text-anchor="end" font-size="17.5" fill="#4D4D4D">3900</text>
<text transform="translate(142.92,376.9) rotate(-45)" text-anchor="middle" dominant-baseline="central" font-size="17.5" fill="#4D4D4D">6h</text>
<text transform="translate(228.11,376.9) rotate(-45)" text-anchor="middle" dominant-baseline="central" font-size="17.5" fill="#4D4D4D">9h</text>
<text transform="translate(313.31,376.9) rotate(-45)" text-anchor="middle" dominant-baseline="central" font-size="17.5" fill="#4D4D4D">12h</text>
<text transform="translate(398.50,376.9) rotate(-45)" text-anchor="middle" dominant-baseline="central" font-size="17.5" fill="#4D4D4D">15h</text>
<text transform="translate(483.69,376.9) rotate(-45)" text-anchor="middle" dominant-baseline="central" font-size="17.5" fill="#4D4D4D">18h</text>
<text transform="translate(568.89,376.9) rotate(-45)" text-anchor="middle" dominant-baseline="central" font-size="17.5" fill="#4D4D4D">21h</text>
<text transform="translate(654.08,376.9) rotate(-45)" text-anchor="middle" dominant-baseline="central" font-size="17.5" fill="#4D4D4D">24h</text>
<text x="401.3" y="418.5" text-anchor="middle" font-size="22" fill="#000">Period</text>
<text transform="translate(36.2,229.7) rotate(-90)" text-anchor="middle" font-size="22" fill="#000">Cycling genes (p value &lt; 0.05)</text>
<text transform="translate(94.2,87) scale(1,1.05)" font-size="26.5" fill="#000">Subject 5</text>
</g>
<g transform="translate(0,755.1)">
<line x1="94.6" x2="708.0" y1="353.03" y2="353.03" stroke="#EBEBEB" stroke-width="1.1"/>
<line x1="94.6" x2="708.0" y1="335.37" y2="335.37" stroke="#EBEBEB" stroke-width="1.1"/>
<line x1="94.6" x2="708.0" y1="317.69" y2="317.69" stroke="#EBEBEB" stroke-width="1.1"/>
<line x1="94.6" x2="708.0" y1="300.02" y2="300.02" stroke="#EBEBEB" stroke-width="1.1"/>
<line x1="94.6" x2="708.0" y1="282.36" y2="282.36" stroke="#EBEBEB" stroke-width="1.1"/>
<line x1="94.6" x2="708.0" y1="264.69" y2="264.69" stroke="#EBEBEB" stroke-width="1.1"/>
<line x1="94.6" x2="708.0" y1="247.01" y2="247.01" stroke="#EBEBEB" stroke-width="1.1"/>
<line x1="94.6" x2="708.0" y1="229.34" y2="229.34" stroke="#EBEBEB" stroke-width="1.1"/>
<line x1="94.6" x2="708.0" y1="211.67" y2="211.67" stroke="#EBEBEB" stroke-width="1.1"/>
<line x1="94.6" x2="708.0" y1="194.00" y2="194.00" stroke="#EBEBEB" stroke-width="1.1"/>
<line x1="94.6" x2="708.0" y1="176.33" y2="176.33" stroke="#EBEBEB" stroke-width="1.1"/>
<line x1="94.6" x2="708.0" y1="158.66" y2="158.66" stroke="#EBEBEB" stroke-width="1.1"/>
<line x1="94.6" x2="708.0" y1="140.99" y2="140.99" stroke="#EBEBEB" stroke-width="1.1"/>
<line x1="94.6" x2="708.0" y1="123.32" y2="123.32" stroke="#EBEBEB" stroke-width="1.1"/>
<line x1="94.6" x2="708.0" y1="105.65" y2="105.65" stroke="#EBEBEB" stroke-width="1.1"/>
<line x1="94.6" x2="708.0" y1="344.20" y2="344.20" stroke="#E6E6E6" stroke-width="1.9"/>
<line x1="94.6" x2="708.0" y1="326.53" y2="326.53" stroke="#E6E6E6" stroke-width="1.9"/>
<line x1="94.6" x2="708.0" y1="308.86" y2="308.86" stroke="#E6E6E6" stroke-width="1.9"/>
<line x1="94.6" x2="708.0" y1="291.19" y2="291.19" stroke="#E6E6E6" stroke-width="1.9"/>
<line x1="94.6" x2="708.0" y1="273.52" y2="273.52" stroke="#E6E6E6" stroke-width="1.9"/>
<line x1="94.6" x2="708.0" y1="255.85" y2="255.85" stroke="#E6E6E6" stroke-width="1.9"/>
<line x1="94.6" x2="708.0" y1="238.18" y2="238.18" stroke="#E6E6E6" stroke-width="1.9"/>
<line x1="94.6" x2="708.0" y1="220.51" y2="220.51" stroke="#E6E6E6" stroke-width="1.9"/>
<line x1="94.6" x2="708.0" y1="202.84" y2="202.84" stroke="#E6E6E6" stroke-width="1.9"/>
<line x1="94.6" x2="708.0" y1="185.17" y2="185.17" stroke="#E6E6E6" stroke-width="1.9"/>
<line x1="94.6" x2="708.0" y1="167.50" y2="167.50" stroke="#E6E6E6" stroke-width="1.9"/>
<line x1="94.6" x2="708.0" y1="149.83" y2="149.83" stroke="#E6E6E6" stroke-width="1.9"/>
<line x1="94.6" x2="708.0" y1="132.16" y2="132.16" stroke="#E6E6E6" stroke-width="1.9"/>
<line x1="94.6" x2="708.0" y1="114.49" y2="114.49" stroke="#E6E6E6" stroke-width="1.9"/>
<line x1="145.72" x2="145.72" y1="103.00" y2="355.69" stroke="#E6E6E6" stroke-width="1.9"/>
<line x1="230.91" x2="230.91" y1="103.00" y2="355.69" stroke="#E6E6E6" stroke-width="1.9"/>
<line x1="316.11" x2="316.11" y1="103.00" y2="355.69" stroke="#E6E6E6" stroke-width="1.9"/>
<line x1="401.30" x2="401.30" y1="103.00" y2="355.69" stroke="#E6E6E6" stroke-width="1.9"/>
<line x1="486.49" x2="486.49" y1="103.00" y2="355.69" stroke="#E6E6E6" stroke-width="1.9"/>
<line x1="571.69" x2="571.69" y1="103.00" y2="355.69" stroke="#E6E6E6" stroke-width="1.9"/>
<line x1="656.88" x2="656.88" y1="103.00" y2="355.69" stroke="#E6E6E6" stroke-width="1.9"/>
<rect x="107.38" y="316.90" width="76.67" height="27.30" fill="#E37F55" stroke="#000" stroke-width="2.1"/>
<rect x="192.57" y="273.70" width="76.67" height="70.50" fill="#E37F55" stroke="#000" stroke-width="2.1"/>
<rect x="277.77" y="282.70" width="76.67" height="61.50" fill="#E37F55" stroke="#000" stroke-width="2.1"/>
<rect x="362.96" y="277.60" width="76.67" height="66.60" fill="#E37F55" stroke="#000" stroke-width="2.1"/>
<rect x="448.16" y="231.80" width="76.67" height="112.40" fill="#E37F55" stroke="#000" stroke-width="2.1"/>
<rect x="533.35" y="127.80" width="76.67" height="216.40" fill="#E37F55" stroke="#000" stroke-width="2.1"/>
<rect x="618.55" y="139.10" width="76.67" height="205.10" fill="#E37F55" stroke="#000" stroke-width="2.1"/>
<text x="84.5" y="350.20" text-anchor="end" font-size="17.5" fill="#4D4D4D">0</text>
<text x="84.5" y="332.53" text-anchor="end" font-size="17.5" fill="#4D4D4D">300</text>
<text x="84.5" y="314.86" text-anchor="end" font-size="17.5" fill="#4D4D4D">600</text>
<text x="84.5" y="297.19" text-anchor="end" font-size="17.5" fill="#4D4D4D">900</text>
<text x="84.5" y="279.52" text-anchor="end" font-size="17.5" fill="#4D4D4D">1200</text>
<text x="84.5" y="261.85" text-anchor="end" font-size="17.5" fill="#4D4D4D">1500</text>
<text x="84.5" y="244.18" text-anchor="end" font-size="17.5" fill="#4D4D4D">1800</text>
<text x="84.5" y="226.51" text-anchor="end" font-size="17.5" fill="#4D4D4D">2100</text>
<text x="84.5" y="208.84" text-anchor="end" font-size="17.5" fill="#4D4D4D">2400</text>
<text x="84.5" y="191.17" text-anchor="end" font-size="17.5" fill="#4D4D4D">2700</text>
<text x="84.5" y="173.50" text-anchor="end" font-size="17.5" fill="#4D4D4D">3000</text>
<text x="84.5" y="155.83" text-anchor="end" font-size="17.5" fill="#4D4D4D">3300</text>
<text x="84.5" y="138.16" text-anchor="end" font-size="17.5" fill="#4D4D4D">3600</text>
<text x="84.5" y="120.49" text-anchor="end" font-size="17.5" fill="#4D4D4D">3900</text>
<text transform="translate(142.92,376.9) rotate(-45)" text-anchor="middle" dominant-baseline="central" font-size="17.5" fill="#4D4D4D">6h</text>
<text transform="translate(228.11,376.9) rotate(-45)" text-anchor="middle" dominant-baseline="central" font-size="17.5" fill="#4D4D4D">9h</text>
<text transform="translate(313.31,376.9) rotate(-45)" text-anchor="middle" dominant-baseline="central" font-size="17.5" fill="#4D4D4D">12h</text>
<text transform="translate(398.50,376.9) rotate(-45)" text-anchor="middle" dominant-baseline="central" font-size="17.5" fill="#4D4D4D">15h</text>
<text transform="translate(483.69,376.9) rotate(-45)" text-anchor="middle" dominant-baseline="central" font-size="17.5" fill="#4D4D4D">18h</text>
<text transform="translate(568.89,376.9) rotate(-45)" text-anchor="middle" dominant-baseline="central" font-size="17.5" fill="#4D4D4D">21h</text>
<text transform="translate(654.08,376.9) rotate(-45)" text-anchor="middle" dominant-baseline="central" font-size="17.5" fill="#4D4D4D">24h</text>
<text x="401.3" y="418.5" text-anchor="middle" font-size="22" fill="#000">Period</text>
<text transform="translate(36.2,229.7) rotate(-90)" text-anchor="middle" font-size="22" fill="#000">Cycling genes (p value &lt; 0.05)</text>
<text transform="translate(94.2,87) scale(1,1.05)" font-size="26.5" fill="#000">Subject 6</text>
</g>
<text x="1.0" y="45.6" font-size="63" font-weight="bold" fill="#000">A</text>
<text transform="translate(-1.0,1226.6) scale(0.95,1)" font-size="63" font-weight="bold" fill="#000">B</text>
<path d="M134.80,1328.70 V1710.90 H516.60" fill="none" stroke="#000" stroke-width="2.2" stroke-linejoin="miter" stroke-linecap="square"/>
<line x1="128.80" x2="134.80" y1="1710.90" y2="1710.90" stroke="#000" stroke-width="2.2"/>
<text transform="translate(127.30,1721.80) scale(1,1.05)" text-anchor="end" font-size="29.00" font-weight="bold" fill="#000">0</text>
<line x1="128.80" x2="134.80" y1="1615.35" y2="1615.35" stroke="#000" stroke-width="2.2"/>
<text transform="translate(127.30,1626.25) scale(1,1.05)" text-anchor="end" font-size="29.00" font-weight="bold" fill="#000">100</text>
<line x1="128.80" x2="134.80" y1="1519.80" y2="1519.80" stroke="#000" stroke-width="2.2"/>
<text transform="translate(127.30,1530.70) scale(1,1.05)" text-anchor="end" font-size="29.00" font-weight="bold" fill="#000">200</text>
<line x1="128.80" x2="134.80" y1="1424.25" y2="1424.25" stroke="#000" stroke-width="2.2"/>
<text transform="translate(127.30,1435.15) scale(1,1.05)" text-anchor="end" font-size="29.00" font-weight="bold" fill="#000">300</text>
<line x1="128.80" x2="134.80" y1="1328.70" y2="1328.70" stroke="#000" stroke-width="2.2"/>
<text transform="translate(127.30,1339.60) scale(1,1.05)" text-anchor="end" font-size="29.00" font-weight="bold" fill="#000">400</text>
<line x1="134.60" x2="134.60" y1="1710.90" y2="1716.90" stroke="#000" stroke-width="2.2"/>
<text transform="translate(140.80,1734.90) rotate(-45) scale(1,1.05)" text-anchor="end" font-size="24.00" font-weight="bold" fill="#000">11AM</text>
<line x1="188.90" x2="188.90" y1="1710.90" y2="1716.90" stroke="#000" stroke-width="2.2"/>
<text transform="translate(195.10,1734.90) rotate(-45) scale(1,1.05)" text-anchor="end" font-size="24.00" font-weight="bold" fill="#000">2PM</text>
<line x1="243.50" x2="243.50" y1="1710.90" y2="1716.90" stroke="#000" stroke-width="2.2"/>
<text transform="translate(249.70,1734.90) rotate(-45) scale(1,1.05)" text-anchor="end" font-size="24.00" font-weight="bold" fill="#000">5PM</text>
<line x1="298.20" x2="298.20" y1="1710.90" y2="1716.90" stroke="#000" stroke-width="2.2"/>
<text transform="translate(304.40,1734.90) rotate(-45) scale(1,1.05)" text-anchor="end" font-size="24.00" font-weight="bold" fill="#000">8PM</text>
<line x1="352.80" x2="352.80" y1="1710.90" y2="1716.90" stroke="#000" stroke-width="2.2"/>
<text transform="translate(359.00,1734.90) rotate(-45) scale(1,1.05)" text-anchor="end" font-size="24.00" font-weight="bold" fill="#000">11PM</text>
<line x1="407.40" x2="407.40" y1="1710.90" y2="1716.90" stroke="#000" stroke-width="2.2"/>
<text transform="translate(413.60,1734.90) rotate(-45) scale(1,1.05)" text-anchor="end" font-size="24.00" font-weight="bold" fill="#000">2AM</text>
<line x1="461.80" x2="461.80" y1="1710.90" y2="1716.90" stroke="#000" stroke-width="2.2"/>
<text transform="translate(468.00,1734.90) rotate(-45) scale(1,1.05)" text-anchor="end" font-size="24.00" font-weight="bold" fill="#000">5AM</text>
<line x1="516.30" x2="516.30" y1="1710.90" y2="1716.90" stroke="#000" stroke-width="2.2"/>
<text transform="translate(522.50,1734.90) rotate(-45) scale(1,1.05)" text-anchor="end" font-size="24.00" font-weight="bold" fill="#000">8AM</text>
<text transform="translate(326.00,1285.70) scale(1,1.05)" text-anchor="middle" font-size="33.70" font-weight="bold" font-style="italic" fill="#000">EIF2AK3</text>
<text transform="translate(61.40,1508.45) rotate(-90) scale(1,1.05)" text-anchor="middle" font-size="25.0" font-weight="bold" fill="#000">Normalized signal intensity</text>
<polyline points="134.60,1447.20 188.90,1381.00 243.50,1404.70 298.20,1369.80 352.80,1464.00 407.40,1423.50 461.80,1458.40 516.30,1496.10" fill="none" stroke="#DD6A12" stroke-width="1.5" stroke-linejoin="round"/>
<circle cx="134.60" cy="1447.20" r="4.7" fill="#E3811F" stroke="#DD6A12" stroke-width="0.9"/>
<circle cx="188.90" cy="1381.00" r="4.7" fill="#E3811F" stroke="#DD6A12" stroke-width="0.9"/>
<circle cx="243.50" cy="1404.70" r="4.7" fill="#E3811F" stroke="#DD6A12" stroke-width="0.9"/>
<circle cx="298.20" cy="1369.80" r="4.7" fill="#E3811F" stroke="#DD6A12" stroke-width="0.9"/>
<circle cx="352.80" cy="1464.00" r="4.7" fill="#E3811F" stroke="#DD6A12" stroke-width="0.9"/>
<circle cx="407.40" cy="1423.50" r="4.7" fill="#E3811F" stroke="#DD6A12" stroke-width="0.9"/>
<circle cx="461.80" cy="1458.40" r="4.7" fill="#E3811F" stroke="#DD6A12" stroke-width="0.9"/>
<circle cx="516.30" cy="1496.10" r="4.7" fill="#E3811F" stroke="#DD6A12" stroke-width="0.9"/>
<polyline points="134.60,1513.60 188.90,1443.80 243.50,1436.90 298.20,1483.00 352.80,1509.10 407.40,1513.00 461.80,1554.70 516.30,1508.80" fill="none" stroke="#5CB222" stroke-width="1.5" stroke-linejoin="round"/>
<circle cx="134.60" cy="1513.60" r="4.7" fill="#6CBE31" stroke="#5CB222" stroke-width="0.9"/>
<circle cx="188.90" cy="1443.80" r="4.7" fill="#6CBE31" stroke="#5CB222" stroke-width="0.9"/>
<circle cx="243.50" cy="1436.90" r="4.7" fill="#6CBE31" stroke="#5CB222" stroke-width="0.9"/>
<circle cx="298.20" cy="1483.00" r="4.7" fill="#6CBE31" stroke="#5CB222" stroke-width="0.9"/>
<circle cx="352.80" cy="1509.10" r="4.7" fill="#6CBE31" stroke="#5CB222" stroke-width="0.9"/>
<circle cx="407.40" cy="1513.00" r="4.7" fill="#6CBE31" stroke="#5CB222" stroke-width="0.9"/>
<circle cx="461.80" cy="1554.70" r="4.7" fill="#6CBE31" stroke="#5CB222" stroke-width="0.9"/>
<circle cx="516.30" cy="1508.80" r="4.7" fill="#6CBE31" stroke="#5CB222" stroke-width="0.9"/>
<polyline points="134.60,1478.60 188.90,1464.50 243.50,1461.60 298.20,1466.60 352.80,1478.70 407.40,1500.70 461.80,1517.70 516.30,1512.50" fill="none" stroke="#4783A3" stroke-width="1.5" stroke-linejoin="round"/>
<circle cx="134.60" cy="1478.60" r="4.7" fill="#5A9AB5" stroke="#4783A3" stroke-width="0.9"/>
<circle cx="188.90" cy="1464.50" r="4.7" fill="#5A9AB5" stroke="#4783A3" stroke-width="0.9"/>
<circle cx="243.50" cy="1461.60" r="4.7" fill="#5A9AB5" stroke="#4783A3" stroke-width="0.9"/>
<circle cx="298.20" cy="1466.60" r="4.7" fill="#5A9AB5" stroke="#4783A3" stroke-width="0.9"/>
<circle cx="352.80" cy="1478.70" r="4.7" fill="#5A9AB5" stroke="#4783A3" stroke-width="0.9"/>
<circle cx="407.40" cy="1500.70" r="4.7" fill="#5A9AB5" stroke="#4783A3" stroke-width="0.9"/>
<circle cx="461.80" cy="1517.70" r="4.7" fill="#5A9AB5" stroke="#4783A3" stroke-width="0.9"/>
<circle cx="516.30" cy="1512.50" r="4.7" fill="#5A9AB5" stroke="#4783A3" stroke-width="0.9"/>
<polyline points="134.60,1547.60 188.90,1516.70 243.50,1526.30 298.20,1557.50 352.80,1528.20 407.40,1490.80 461.80,1521.40 516.30,1569.00" fill="none" stroke="#E0666F" stroke-width="1.5" stroke-linejoin="round"/>
<circle cx="134.60" cy="1547.60" r="4.7" fill="#E8838A" stroke="#E0666F" stroke-width="0.9"/>
<circle cx="188.90" cy="1516.70" r="4.7" fill="#E8838A" stroke="#E0666F" stroke-width="0.9"/>
<circle cx="243.50" cy="1526.30" r="4.7" fill="#E8838A" stroke="#E0666F" stroke-width="0.9"/>
<circle cx="298.20" cy="1557.50" r="4.7" fill="#E8838A" stroke="#E0666F" stroke-width="0.9"/>
<circle cx="352.80" cy="1528.20" r="4.7" fill="#E8838A" stroke="#E0666F" stroke-width="0.9"/>
<circle cx="407.40" cy="1490.80" r="4.7" fill="#E8838A" stroke="#E0666F" stroke-width="0.9"/>
<circle cx="461.80" cy="1521.40" r="4.7" fill="#E8838A" stroke="#E0666F" stroke-width="0.9"/>
<circle cx="516.30" cy="1569.00" r="4.7" fill="#E8838A" stroke="#E0666F" stroke-width="0.9"/>
<polyline points="134.60,1474.90 188.90,1474.10 243.50,1465.70 298.20,1459.40 352.80,1489.30 407.40,1455.60 461.80,1506.20 516.30,1475.00" fill="none" stroke="#B2B226" stroke-width="1.5" stroke-linejoin="round"/>
<circle cx="134.60" cy="1474.90" r="4.7" fill="#BFBF31" stroke="#B2B226" stroke-width="0.9"/>
<circle cx="188.90" cy="1474.10" r="4.7" fill="#BFBF31" stroke="#B2B226" stroke-width="0.9"/>
<circle cx="243.50" cy="1465.70" r="4.7" fill="#BFBF31" stroke="#B2B226" stroke-width="0.9"/>
<circle cx="298.20" cy="1459.40" r="4.7" fill="#BFBF31" stroke="#B2B226" stroke-width="0.9"/>
<circle cx="352.80" cy="1489.30" r="4.7" fill="#BFBF31" stroke="#B2B226" stroke-width="0.9"/>
<circle cx="407.40" cy="1455.60" r="4.7" fill="#BFBF31" stroke="#B2B226" stroke-width="0.9"/>
<circle cx="461.80" cy="1506.20" r="4.7" fill="#BFBF31" stroke="#B2B226" stroke-width="0.9"/>
<circle cx="516.30" cy="1475.00" r="4.7" fill="#BFBF31" stroke="#B2B226" stroke-width="0.9"/>
<path d="M845.50,1319.90 V1710.50 H1235.70" fill="none" stroke="#000" stroke-width="2.2" stroke-linejoin="miter" stroke-linecap="square"/>
<line x1="839.50" x2="845.50" y1="1710.50" y2="1710.50" stroke="#000" stroke-width="2.2"/>
<text transform="translate(837.84,1721.64) scale(1,1.05)" text-anchor="end" font-size="29.63" font-weight="bold" fill="#000">250</text>
<line x1="839.50" x2="845.50" y1="1580.30" y2="1580.30" stroke="#000" stroke-width="2.2"/>
<text transform="translate(837.84,1591.44) scale(1,1.05)" text-anchor="end" font-size="29.63" font-weight="bold" fill="#000">300</text>
<line x1="839.50" x2="845.50" y1="1450.10" y2="1450.10" stroke="#000" stroke-width="2.2"/>
<text transform="translate(837.84,1461.24) scale(1,1.05)" text-anchor="end" font-size="29.63" font-weight="bold" fill="#000">350</text>
<line x1="839.50" x2="845.50" y1="1319.90" y2="1319.90" stroke="#000" stroke-width="2.2"/>
<text transform="translate(837.84,1331.04) scale(1,1.05)" text-anchor="end" font-size="29.63" font-weight="bold" fill="#000">400</text>
<line x1="845.50" x2="845.50" y1="1710.50" y2="1716.50" stroke="#000" stroke-width="2.2"/>
<text transform="translate(851.83,1735.02) rotate(-45) scale(1,1.05)" text-anchor="end" font-size="24.52" font-weight="bold" fill="#000">11AM</text>
<line x1="901.10" x2="901.10" y1="1710.50" y2="1716.50" stroke="#000" stroke-width="2.2"/>
<text transform="translate(907.43,1735.02) rotate(-45) scale(1,1.05)" text-anchor="end" font-size="24.52" font-weight="bold" fill="#000">2PM</text>
<line x1="956.80" x2="956.80" y1="1710.50" y2="1716.50" stroke="#000" stroke-width="2.2"/>
<text transform="translate(963.13,1735.02) rotate(-45) scale(1,1.05)" text-anchor="end" font-size="24.52" font-weight="bold" fill="#000">5PM</text>
<line x1="1012.50" x2="1012.50" y1="1710.50" y2="1716.50" stroke="#000" stroke-width="2.2"/>
<text transform="translate(1018.83,1735.02) rotate(-45) scale(1,1.05)" text-anchor="end" font-size="24.52" font-weight="bold" fill="#000">8PM</text>
<line x1="1068.30" x2="1068.30" y1="1710.50" y2="1716.50" stroke="#000" stroke-width="2.2"/>
<text transform="translate(1074.63,1735.02) rotate(-45) scale(1,1.05)" text-anchor="end" font-size="24.52" font-weight="bold" fill="#000">11PM</text>
<line x1="1124.10" x2="1124.10" y1="1710.50" y2="1716.50" stroke="#000" stroke-width="2.2"/>
<text transform="translate(1130.43,1735.02) rotate(-45) scale(1,1.05)" text-anchor="end" font-size="24.52" font-weight="bold" fill="#000">2AM</text>
<line x1="1179.80" x2="1179.80" y1="1710.50" y2="1716.50" stroke="#000" stroke-width="2.2"/>
<text transform="translate(1186.13,1735.02) rotate(-45) scale(1,1.05)" text-anchor="end" font-size="24.52" font-weight="bold" fill="#000">5AM</text>
<line x1="1235.50" x2="1235.50" y1="1710.50" y2="1716.50" stroke="#000" stroke-width="2.2"/>
<text transform="translate(1241.83,1735.02) rotate(-45) scale(1,1.05)" text-anchor="end" font-size="24.52" font-weight="bold" fill="#000">8AM</text>
<text transform="translate(1040.50,1275.60) scale(1,1.05)" text-anchor="middle" font-size="34.43" font-weight="bold" font-style="italic" fill="#000">NXF1</text>
<text transform="translate(777.50,1503.82) rotate(-90) scale(1,1.05)" text-anchor="middle" font-size="25.55" font-weight="bold" fill="#000">Normalized signal intensity</text>
<polyline points="845.50,1462.50 901.10,1401.80 956.80,1574.80 1012.50,1414.50 1068.30,1427.00 1124.10,1520.00 1179.80,1545.30 1235.50,1582.00" fill="none" stroke="#DD6A12" stroke-width="1.5" stroke-linejoin="round"/>
<circle cx="845.50" cy="1462.50" r="4.7" fill="#E3811F" stroke="#DD6A12" stroke-width="0.9"/>
<circle cx="901.10" cy="1401.80" r="4.7" fill="#E3811F" stroke="#DD6A12" stroke-width="0.9"/>
<circle cx="956.80" cy="1574.80" r="4.7" fill="#E3811F" stroke="#DD6A12" stroke-width="0.9"/>
<circle cx="1012.50" cy="1414.50" r="4.7" fill="#E3811F" stroke="#DD6A12" stroke-width="0.9"/>
<circle cx="1068.30" cy="1427.00" r="4.7" fill="#E3811F" stroke="#DD6A12" stroke-width="0.9"/>
<circle cx="1124.10" cy="1520.00" r="4.7" fill="#E3811F" stroke="#DD6A12" stroke-width="0.9"/>
<circle cx="1179.80" cy="1545.30" r="4.7" fill="#E3811F" stroke="#DD6A12" stroke-width="0.9"/>
<circle cx="1235.50" cy="1582.00" r="4.7" fill="#E3811F" stroke="#DD6A12" stroke-width="0.9"/>
<polyline points="845.50,1516.80 901.10,1408.10 956.80,1497.30 1012.50,1488.80 1068.30,1469.00 1124.10,1537.60 1179.80,1341.10 1235.50,1646.40" fill="none" stroke="#5CB222" stroke-width="1.5" stroke-linejoin="round"/>
<circle cx="845.50" cy="1516.80" r="4.7" fill="#6CBE31" stroke="#5CB222" stroke-width="0.9"/>
<circle cx="901.10" cy="1408.10" r="4.7" fill="#6CBE31" stroke="#5CB222" stroke-width="0.9"/>
<circle cx="956.80" cy="1497.30" r="4.7" fill="#6CBE31" stroke="#5CB222" stroke-width="0.9"/>
<circle cx="1012.50" cy="1488.80" r="4.7" fill="#6CBE31" stroke="#5CB222" stroke-width="0.9"/>
<circle cx="1068.30" cy="1469.00" r="4.7" fill="#6CBE31" stroke="#5CB222" stroke-width="0.9"/>
<circle cx="1124.10" cy="1537.60" r="4.7" fill="#6CBE31" stroke="#5CB222" stroke-width="0.9"/>
<circle cx="1179.80" cy="1341.10" r="4.7" fill="#6CBE31" stroke="#5CB222" stroke-width="0.9"/>
<circle cx="1235.50" cy="1646.40" r="4.7" fill="#6CBE31" stroke="#5CB222" stroke-width="0.9"/>
<polyline points="845.50,1546.80 901.10,1534.90 956.80,1617.70 1012.50,1611.10 1068.30,1577.40 1124.10,1532.00 1179.80,1582.70 1235.50,1608.30" fill="none" stroke="#4783A3" stroke-width="1.5" stroke-linejoin="round"/>
<circle cx="845.50" cy="1546.80" r="4.7" fill="#5A9AB5" stroke="#4783A3" stroke-width="0.9"/>
<circle cx="901.10" cy="1534.90" r="4.7" fill="#5A9AB5" stroke="#4783A3" stroke-width="0.9"/>
<circle cx="956.80" cy="1617.70" r="4.7" fill="#5A9AB5" stroke="#4783A3" stroke-width="0.9"/>
<circle cx="1012.50" cy="1611.10" r="4.7" fill="#5A9AB5" stroke="#4783A3" stroke-width="0.9"/>
<circle cx="1068.30" cy="1577.40" r="4.7" fill="#5A9AB5" stroke="#4783A3" stroke-width="0.9"/>
<circle cx="1124.10" cy="1532.00" r="4.7" fill="#5A9AB5" stroke="#4783A3" stroke-width="0.9"/>
<circle cx="1179.80" cy="1582.70" r="4.7" fill="#5A9AB5" stroke="#4783A3" stroke-width="0.9"/>
<circle cx="1235.50" cy="1608.30" r="4.7" fill="#5A9AB5" stroke="#4783A3" stroke-width="0.9"/>
<polyline points="845.50,1621.90 901.10,1653.40 956.80,1543.70 1012.50,1517.50 1068.30,1405.00 1124.10,1514.50 1179.80,1552.00 1235.50,1650.60" fill="none" stroke="#E0666F" stroke-width="1.5" stroke-linejoin="round"/>
<circle cx="845.50" cy="1621.90" r="4.7" fill="#E8838A" stroke="#E0666F" stroke-width="0.9"/>
<circle cx="901.10" cy="1653.40" r="4.7" fill="#E8838A" stroke="#E0666F" stroke-width="0.9"/>
<circle cx="956.80" cy="1543.70" r="4.7" fill="#E8838A" stroke="#E0666F" stroke-width="0.9"/>
<circle cx="1012.50" cy="1517.50" r="4.7" fill="#E8838A" stroke="#E0666F" stroke-width="0.9"/>
<circle cx="1068.30" cy="1405.00" r="4.7" fill="#E8838A" stroke="#E0666F" stroke-width="0.9"/>
<circle cx="1124.10" cy="1514.50" r="4.7" fill="#E8838A" stroke="#E0666F" stroke-width="0.9"/>
<circle cx="1179.80" cy="1552.00" r="4.7" fill="#E8838A" stroke="#E0666F" stroke-width="0.9"/>
<circle cx="1235.50" cy="1650.60" r="4.7" fill="#E8838A" stroke="#E0666F" stroke-width="0.9"/>
<polyline points="845.50,1586.50 901.10,1632.90 956.80,1568.70 1012.50,1574.40 1068.30,1460.70 1124.10,1664.70 1179.80,1629.60 1235.50,1631.40" fill="none" stroke="#B2B226" stroke-width="1.5" stroke-linejoin="round"/>
<circle cx="845.50" cy="1586.50" r="4.7" fill="#BFBF31" stroke="#B2B226" stroke-width="0.9"/>
<circle cx="901.10" cy="1632.90" r="4.7" fill="#BFBF31" stroke="#B2B226" stroke-width="0.9"/>
<circle cx="956.80" cy="1568.70" r="4.7" fill="#BFBF31" stroke="#B2B226" stroke-width="0.9"/>
<circle cx="1012.50" cy="1574.40" r="4.7" fill="#BFBF31" stroke="#B2B226" stroke-width="0.9"/>
<circle cx="1068.30" cy="1460.70" r="4.7" fill="#BFBF31" stroke="#B2B226" stroke-width="0.9"/>
<circle cx="1124.10" cy="1664.70" r="4.7" fill="#BFBF31" stroke="#B2B226" stroke-width="0.9"/>
<circle cx="1179.80" cy="1629.60" r="4.7" fill="#BFBF31" stroke="#B2B226" stroke-width="0.9"/>
<circle cx="1235.50" cy="1631.40" r="4.7" fill="#BFBF31" stroke="#B2B226" stroke-width="0.9"/>
<path d="M134.40,1889.60 V2269.20 H512.80" fill="none" stroke="#000" stroke-width="2.2" stroke-linejoin="miter" stroke-linecap="square"/>
<line x1="128.40" x2="134.40" y1="2269.20" y2="2269.20" stroke="#000" stroke-width="2.2"/>
<text transform="translate(126.97,2280.00) scale(1,1.05)" text-anchor="end" font-size="28.74" font-weight="bold" fill="#000">0</text>
<line x1="128.40" x2="134.40" y1="2174.30" y2="2174.30" stroke="#000" stroke-width="2.2"/>
<text transform="translate(126.97,2185.10) scale(1,1.05)" text-anchor="end" font-size="28.74" font-weight="bold" fill="#000">1000</text>
<line x1="128.40" x2="134.40" y1="2079.40" y2="2079.40" stroke="#000" stroke-width="2.2"/>
<text transform="translate(126.97,2090.20) scale(1,1.05)" text-anchor="end" font-size="28.74" font-weight="bold" fill="#000">2000</text>
<line x1="128.40" x2="134.40" y1="1984.50" y2="1984.50" stroke="#000" stroke-width="2.2"/>
<text transform="translate(126.97,1995.30) scale(1,1.05)" text-anchor="end" font-size="28.74" font-weight="bold" fill="#000">3000</text>
<line x1="128.40" x2="134.40" y1="1889.60" y2="1889.60" stroke="#000" stroke-width="2.2"/>
<text transform="translate(126.97,1900.40) scale(1,1.05)" text-anchor="end" font-size="28.74" font-weight="bold" fill="#000">4000</text>
<line x1="134.40" x2="134.40" y1="2269.20" y2="2275.20" stroke="#000" stroke-width="2.2"/>
<text transform="translate(140.54,2292.98) rotate(-45) scale(1,1.05)" text-anchor="end" font-size="23.78" font-weight="bold" fill="#000">11AM</text>
<line x1="188.50" x2="188.50" y1="2269.20" y2="2275.20" stroke="#000" stroke-width="2.2"/>
<text transform="translate(194.64,2292.98) rotate(-45) scale(1,1.05)" text-anchor="end" font-size="23.78" font-weight="bold" fill="#000">2PM</text>
<line x1="242.40" x2="242.40" y1="2269.20" y2="2275.20" stroke="#000" stroke-width="2.2"/>
<text transform="translate(248.54,2292.98) rotate(-45) scale(1,1.05)" text-anchor="end" font-size="23.78" font-weight="bold" fill="#000">5PM</text>
<line x1="296.50" x2="296.50" y1="2269.20" y2="2275.20" stroke="#000" stroke-width="2.2"/>
<text transform="translate(302.64,2292.98) rotate(-45) scale(1,1.05)" text-anchor="end" font-size="23.78" font-weight="bold" fill="#000">8PM</text>
<line x1="350.70" x2="350.70" y1="2269.20" y2="2275.20" stroke="#000" stroke-width="2.2"/>
<text transform="translate(356.84,2292.98) rotate(-45) scale(1,1.05)" text-anchor="end" font-size="23.78" font-weight="bold" fill="#000">11PM</text>
<line x1="404.60" x2="404.60" y1="2269.20" y2="2275.20" stroke="#000" stroke-width="2.2"/>
<text transform="translate(410.74,2292.98) rotate(-45) scale(1,1.05)" text-anchor="end" font-size="23.78" font-weight="bold" fill="#000">2AM</text>
<line x1="458.60" x2="458.60" y1="2269.20" y2="2275.20" stroke="#000" stroke-width="2.2"/>
<text transform="translate(464.74,2292.98) rotate(-45) scale(1,1.05)" text-anchor="end" font-size="23.78" font-weight="bold" fill="#000">5AM</text>
<line x1="512.60" x2="512.60" y1="2269.20" y2="2275.20" stroke="#000" stroke-width="2.2"/>
<text transform="translate(518.74,2292.98) rotate(-45) scale(1,1.05)" text-anchor="end" font-size="23.78" font-weight="bold" fill="#000">8AM</text>
<text transform="translate(324.50,1846.90) scale(1,1.05)" text-anchor="middle" font-size="33.40" font-weight="bold" font-style="italic" fill="#000">SEC23B</text>
<text transform="translate(52.70,2068.59) rotate(-90) scale(1,1.05)" text-anchor="middle" font-size="24.8" font-weight="bold" fill="#000">Normalized signal intensity</text>
<polyline points="134.40,2085.20 188.50,2008.80 242.40,2060.90 296.50,2018.70 350.70,2073.10 404.60,2023.40 458.60,2050.70 512.60,2055.80" fill="none" stroke="#DD6A12" stroke-width="1.5" stroke-linejoin="round"/>
<circle cx="134.40" cy="2085.20" r="4.7" fill="#E3811F" stroke="#DD6A12" stroke-width="0.9"/>
<circle cx="188.50" cy="2008.80" r="4.7" fill="#E3811F" stroke="#DD6A12" stroke-width="0.9"/>
<circle cx="242.40" cy="2060.90" r="4.7" fill="#E3811F" stroke="#DD6A12" stroke-width="0.9"/>
<circle cx="296.50" cy="2018.70" r="4.7" fill="#E3811F" stroke="#DD6A12" stroke-width="0.9"/>
<circle cx="350.70" cy="2073.10" r="4.7" fill="#E3811F" stroke="#DD6A12" stroke-width="0.9"/>
<circle cx="404.60" cy="2023.40" r="4.7" fill="#E3811F" stroke="#DD6A12" stroke-width="0.9"/>
<circle cx="458.60" cy="2050.70" r="4.7" fill="#E3811F" stroke="#DD6A12" stroke-width="0.9"/>
<circle cx="512.60" cy="2055.80" r="4.7" fill="#E3811F" stroke="#DD6A12" stroke-width="0.9"/>
<polyline points="134.40,2023.40 188.50,1957.00 242.40,2032.90 296.50,1986.00 350.70,2024.70 404.60,2040.20 458.60,2098.60 512.60,2061.30" fill="none" stroke="#5CB222" stroke-width="1.5" stroke-linejoin="round"/>
<circle cx="134.40" cy="2023.40" r="4.7" fill="#6CBE31" stroke="#5CB222" stroke-width="0.9"/>
<circle cx="188.50" cy="1957.00" r="4.7" fill="#6CBE31" stroke="#5CB222" stroke-width="0.9"/>
<circle cx="242.40" cy="2032.90" r="4.7" fill="#6CBE31" stroke="#5CB222" stroke-width="0.9"/>
<circle cx="296.50" cy="1986.00" r="4.7" fill="#6CBE31" stroke="#5CB222" stroke-width="0.9"/>
<circle cx="350.70" cy="2024.70" r="4.7" fill="#6CBE31" stroke="#5CB222" stroke-width="0.9"/>
<circle cx="404.60" cy="2040.20" r="4.7" fill="#6CBE31" stroke="#5CB222" stroke-width="0.9"/>
<circle cx="458.60" cy="2098.60" r="4.7" fill="#6CBE31" stroke="#5CB222" stroke-width="0.9"/>
<circle cx="512.60" cy="2061.30" r="4.7" fill="#6CBE31" stroke="#5CB222" stroke-width="0.9"/>
<polyline points="134.40,2052.10 188.50,2055.40 242.40,1994.50 296.50,1982.70 350.70,2025.00 404.60,1996.00 458.60,2052.80 512.60,2099.50" fill="none" stroke="#4783A3" stroke-width="1.5" stroke-linejoin="round"/>
<circle cx="134.40" cy="2052.10" r="4.7" fill="#5A9AB5" stroke="#4783A3" stroke-width="0.9"/>
<circle cx="188.50" cy="2055.40" r="4.7" fill="#5A9AB5" stroke="#4783A3" stroke-width="0.9"/>
<circle cx="242.40" cy="1994.50" r="4.7" fill="#5A9AB5" stroke="#4783A3" stroke-width="0.9"/>
<circle cx="296.50" cy="1982.70" r="4.7" fill="#5A9AB5" stroke="#4783A3" stroke-width="0.9"/>
<circle cx="350.70" cy="2025.00" r="4.7" fill="#5A9AB5" stroke="#4783A3" stroke-width="0.9"/>
<circle cx="404.60" cy="1996.00" r="4.7" fill="#5A9AB5" stroke="#4783A3" stroke-width="0.9"/>
<circle cx="458.60" cy="2052.80" r="4.7" fill="#5A9AB5" stroke="#4783A3" stroke-width="0.9"/>
<circle cx="512.60" cy="2099.50" r="4.7" fill="#5A9AB5" stroke="#4783A3" stroke-width="0.9"/>
<polyline points="134.40,2163.50 188.50,2157.10 242.40,2121.30 296.50,2182.80 350.70,2128.50 404.60,2086.30 458.60,2103.00 512.60,2146.90" fill="none" stroke="#E0666F" stroke-width="1.5" stroke-linejoin="round"/>
<circle cx="134.40" cy="2163.50" r="4.7" fill="#E8838A" stroke="#E0666F" stroke-width="0.9"/>
<circle cx="188.50" cy="2157.10" r="4.7" fill="#E8838A" stroke="#E0666F" stroke-width="0.9"/>
<circle cx="242.40" cy="2121.30" r="4.7" fill="#E8838A" stroke="#E0666F" stroke-width="0.9"/>
<circle cx="296.50" cy="2182.80" r="4.7" fill="#E8838A" stroke="#E0666F" stroke-width="0.9"/>
<circle cx="350.70" cy="2128.50" r="4.7" fill="#E8838A" stroke="#E0666F" stroke-width="0.9"/>
<circle cx="404.60" cy="2086.30" r="4.7" fill="#E8838A" stroke="#E0666F" stroke-width="0.9"/>
<circle cx="458.60" cy="2103.00" r="4.7" fill="#E8838A" stroke="#E0666F" stroke-width="0.9"/>
<circle cx="512.60" cy="2146.90" r="4.7" fill="#E8838A" stroke="#E0666F" stroke-width="0.9"/>
<polyline points="134.40,2068.20 188.50,2053.40 242.40,2105.80 296.50,1998.60 350.70,2010.60 404.60,1955.20 458.60,1997.80 512.60,1994.20" fill="none" stroke="#B2B226" stroke-width="1.5" stroke-linejoin="round"/>
<circle cx="134.40" cy="2068.20" r="4.7" fill="#BFBF31" stroke="#B2B226" stroke-width="0.9"/>
<circle cx="188.50" cy="2053.40" r="4.7" fill="#BFBF31" stroke="#B2B226" stroke-width="0.9"/>
<circle cx="242.40" cy="2105.80" r="4.7" fill="#BFBF31" stroke="#B2B226" stroke-width="0.9"/>
<circle cx="296.50" cy="1998.60" r="4.7" fill="#BFBF31" stroke="#B2B226" stroke-width="0.9"/>
<circle cx="350.70" cy="2010.60" r="4.7" fill="#BFBF31" stroke="#B2B226" stroke-width="0.9"/>
<circle cx="404.60" cy="1955.20" r="4.7" fill="#BFBF31" stroke="#B2B226" stroke-width="0.9"/>
<circle cx="458.60" cy="1997.80" r="4.7" fill="#BFBF31" stroke="#B2B226" stroke-width="0.9"/>
<circle cx="512.60" cy="1994.20" r="4.7" fill="#BFBF31" stroke="#B2B226" stroke-width="0.9"/>
<path d="M845.40,1889.60 V2268.80 H1223.50" fill="none" stroke="#000" stroke-width="2.2" stroke-linejoin="miter" stroke-linecap="square"/>
<line x1="839.40" x2="845.40" y1="2268.80" y2="2268.80" stroke="#000" stroke-width="2.2"/>
<text transform="translate(837.97,2279.60) scale(1,1.05)" text-anchor="end" font-size="28.74" font-weight="bold" fill="#000">0</text>
<line x1="839.40" x2="845.40" y1="2174.00" y2="2174.00" stroke="#000" stroke-width="2.2"/>
<text transform="translate(837.97,2184.80) scale(1,1.05)" text-anchor="end" font-size="28.74" font-weight="bold" fill="#000">1000</text>
<line x1="839.40" x2="845.40" y1="2079.20" y2="2079.20" stroke="#000" stroke-width="2.2"/>
<text transform="translate(837.97,2090.00) scale(1,1.05)" text-anchor="end" font-size="28.74" font-weight="bold" fill="#000">2000</text>
<line x1="839.40" x2="845.40" y1="1984.40" y2="1984.40" stroke="#000" stroke-width="2.2"/>
<text transform="translate(837.97,1995.20) scale(1,1.05)" text-anchor="end" font-size="28.74" font-weight="bold" fill="#000">3000</text>
<line x1="839.40" x2="845.40" y1="1889.60" y2="1889.60" stroke="#000" stroke-width="2.2"/>
<text transform="translate(837.97,1900.40) scale(1,1.05)" text-anchor="end" font-size="28.74" font-weight="bold" fill="#000">4000</text>
<line x1="845.40" x2="845.40" y1="2268.80" y2="2274.80" stroke="#000" stroke-width="2.2"/>
<text transform="translate(851.54,2292.58) rotate(-45) scale(1,1.05)" text-anchor="end" font-size="23.78" font-weight="bold" fill="#000">11AM</text>
<line x1="899.20" x2="899.20" y1="2268.80" y2="2274.80" stroke="#000" stroke-width="2.2"/>
<text transform="translate(905.34,2292.58) rotate(-45) scale(1,1.05)" text-anchor="end" font-size="23.78" font-weight="bold" fill="#000">2PM</text>
<line x1="953.20" x2="953.20" y1="2268.80" y2="2274.80" stroke="#000" stroke-width="2.2"/>
<text transform="translate(959.34,2292.58) rotate(-45) scale(1,1.05)" text-anchor="end" font-size="23.78" font-weight="bold" fill="#000">5PM</text>
<line x1="1007.10" x2="1007.10" y1="2268.80" y2="2274.80" stroke="#000" stroke-width="2.2"/>
<text transform="translate(1013.24,2292.58) rotate(-45) scale(1,1.05)" text-anchor="end" font-size="23.78" font-weight="bold" fill="#000">8PM</text>
<line x1="1061.30" x2="1061.30" y1="2268.80" y2="2274.80" stroke="#000" stroke-width="2.2"/>
<text transform="translate(1067.44,2292.58) rotate(-45) scale(1,1.05)" text-anchor="end" font-size="23.78" font-weight="bold" fill="#000">11PM</text>
<line x1="1115.30" x2="1115.30" y1="2268.80" y2="2274.80" stroke="#000" stroke-width="2.2"/>
<text transform="translate(1121.44,2292.58) rotate(-45) scale(1,1.05)" text-anchor="end" font-size="23.78" font-weight="bold" fill="#000">2AM</text>
<line x1="1169.20" x2="1169.20" y1="2268.80" y2="2274.80" stroke="#000" stroke-width="2.2"/>
<text transform="translate(1175.34,2292.58) rotate(-45) scale(1,1.05)" text-anchor="end" font-size="23.78" font-weight="bold" fill="#000">5AM</text>
<line x1="1223.30" x2="1223.30" y1="2268.80" y2="2274.80" stroke="#000" stroke-width="2.2"/>
<text transform="translate(1229.44,2292.58) rotate(-45) scale(1,1.05)" text-anchor="end" font-size="23.78" font-weight="bold" fill="#000">8AM</text>
<text transform="translate(1033.30,1847.20) scale(1,1.05)" text-anchor="middle" font-size="33.40" font-weight="bold" font-style="italic" fill="#000">XBP1</text>
<text transform="translate(763.20,2068.59) rotate(-90) scale(1,1.05)" text-anchor="middle" font-size="24.8" font-weight="bold" fill="#000">Normalized signal intensity</text>
<polyline points="845.40,2016.40 899.20,1931.40 953.20,2000.90 1007.10,1967.60 1061.30,1982.80 1115.30,1983.30 1169.20,2015.90 1223.30,2024.70" fill="none" stroke="#DD6A12" stroke-width="1.5" stroke-linejoin="round"/>
<circle cx="845.40" cy="2016.40" r="4.7" fill="#E3811F" stroke="#DD6A12" stroke-width="0.9"/>
<circle cx="899.20" cy="1931.40" r="4.7" fill="#E3811F" stroke="#DD6A12" stroke-width="0.9"/>
<circle cx="953.20" cy="2000.90" r="4.7" fill="#E3811F" stroke="#DD6A12" stroke-width="0.9"/>
<circle cx="1007.10" cy="1967.60" r="4.7" fill="#E3811F" stroke="#DD6A12" stroke-width="0.9"/>
<circle cx="1061.30" cy="1982.80" r="4.7" fill="#E3811F" stroke="#DD6A12" stroke-width="0.9"/>
<circle cx="1115.30" cy="1983.30" r="4.7" fill="#E3811F" stroke="#DD6A12" stroke-width="0.9"/>
<circle cx="1169.20" cy="2015.90" r="4.7" fill="#E3811F" stroke="#DD6A12" stroke-width="0.9"/>
<circle cx="1223.30" cy="2024.70" r="4.7" fill="#E3811F" stroke="#DD6A12" stroke-width="0.9"/>
<polyline points="845.40,2047.20 899.20,2046.30 953.20,2054.30 1007.10,2069.00 1061.30,2049.30 1115.30,2108.80 1169.20,2138.20 1223.30,2091.00" fill="none" stroke="#5CB222" stroke-width="1.5" stroke-linejoin="round"/>
<circle cx="845.40" cy="2047.20" r="4.7" fill="#6CBE31" stroke="#5CB222" stroke-width="0.9"/>
<circle cx="899.20" cy="2046.30" r="4.7" fill="#6CBE31" stroke="#5CB222" stroke-width="0.9"/>
<circle cx="953.20" cy="2054.30" r="4.7" fill="#6CBE31" stroke="#5CB222" stroke-width="0.9"/>
<circle cx="1007.10" cy="2069.00" r="4.7" fill="#6CBE31" stroke="#5CB222" stroke-width="0.9"/>
<circle cx="1061.30" cy="2049.30" r="4.7" fill="#6CBE31" stroke="#5CB222" stroke-width="0.9"/>
<circle cx="1115.30" cy="2108.80" r="4.7" fill="#6CBE31" stroke="#5CB222" stroke-width="0.9"/>
<circle cx="1169.20" cy="2138.20" r="4.7" fill="#6CBE31" stroke="#5CB222" stroke-width="0.9"/>
<circle cx="1223.30" cy="2091.00" r="4.7" fill="#6CBE31" stroke="#5CB222" stroke-width="0.9"/>
<polyline points="845.40,1945.60 899.20,1961.20 953.20,1940.90 1007.10,1979.30 1061.30,2033.50 1115.30,1983.00 1169.20,2021.20 1223.30,1948.50" fill="none" stroke="#4783A3" stroke-width="1.5" stroke-linejoin="round"/>
<circle cx="845.40" cy="1945.60" r="4.7" fill="#5A9AB5" stroke="#4783A3" stroke-width="0.9"/>
<circle cx="899.20" cy="1961.20" r="4.7" fill="#5A9AB5" stroke="#4783A3" stroke-width="0.9"/>
<circle cx="953.20" cy="1940.90" r="4.7" fill="#5A9AB5" stroke="#4783A3" stroke-width="0.9"/>
<circle cx="1007.10" cy="1979.30" r="4.7" fill="#5A9AB5" stroke="#4783A3" stroke-width="0.9"/>
<circle cx="1061.30" cy="2033.50" r="4.7" fill="#5A9AB5" stroke="#4783A3" stroke-width="0.9"/>
<circle cx="1115.30" cy="1983.00" r="4.7" fill="#5A9AB5" stroke="#4783A3" stroke-width="0.9"/>
<circle cx="1169.20" cy="2021.20" r="4.7" fill="#5A9AB5" stroke="#4783A3" stroke-width="0.9"/>
<circle cx="1223.30" cy="1948.50" r="4.7" fill="#5A9AB5" stroke="#4783A3" stroke-width="0.9"/>
<polyline points="845.40,2122.60 899.20,2115.60 953.20,2078.30 1007.10,2100.00 1061.30,2172.80 1115.30,2088.40 1169.20,2138.70 1223.30,2122.80" fill="none" stroke="#E0666F" stroke-width="1.5" stroke-linejoin="round"/>
<circle cx="845.40" cy="2122.60" r="4.7" fill="#E8838A" stroke="#E0666F" stroke-width="0.9"/>
<circle cx="899.20" cy="2115.60" r="4.7" fill="#E8838A" stroke="#E0666F" stroke-width="0.9"/>
<circle cx="953.20" cy="2078.30" r="4.7" fill="#E8838A" stroke="#E0666F" stroke-width="0.9"/>
<circle cx="1007.10" cy="2100.00" r="4.7" fill="#E8838A" stroke="#E0666F" stroke-width="0.9"/>
<circle cx="1061.30" cy="2172.80" r="4.7" fill="#E8838A" stroke="#E0666F" stroke-width="0.9"/>
<circle cx="1115.30" cy="2088.40" r="4.7" fill="#E8838A" stroke="#E0666F" stroke-width="0.9"/>
<circle cx="1169.20" cy="2138.70" r="4.7" fill="#E8838A" stroke="#E0666F" stroke-width="0.9"/>
<circle cx="1223.30" cy="2122.80" r="4.7" fill="#E8838A" stroke="#E0666F" stroke-width="0.9"/>
<polyline points="845.40,1999.60 899.20,2010.40 953.20,1985.30 1007.10,2019.00 1061.30,2005.70 1115.30,1992.10 1169.20,2052.30 1223.30,2030.50" fill="none" stroke="#B2B226" stroke-width="1.5" stroke-linejoin="round"/>
<circle cx="845.40" cy="1999.60" r="4.7" fill="#BFBF31" stroke="#B2B226" stroke-width="0.9"/>
<circle cx="899.20" cy="2010.40" r="4.7" fill="#BFBF31" stroke="#B2B226" stroke-width="0.9"/>
<circle cx="953.20" cy="1985.30" r="4.7" fill="#BFBF31" stroke="#B2B226" stroke-width="0.9"/>
<circle cx="1007.10" cy="2019.00" r="4.7" fill="#BFBF31" stroke="#B2B226" stroke-width="0.9"/>
<circle cx="1061.30" cy="2005.70" r="4.7" fill="#BFBF31" stroke="#B2B226" stroke-width="0.9"/>
<circle cx="1115.30" cy="1992.10" r="4.7" fill="#BFBF31" stroke="#B2B226" stroke-width="0.9"/>
<circle cx="1169.20" cy="2052.30" r="4.7" fill="#BFBF31" stroke="#B2B226" stroke-width="0.9"/>
<circle cx="1223.30" cy="2030.50" r="4.7" fill="#BFBF31" stroke="#B2B226" stroke-width="0.9"/>
<line x1="571.3" x2="585.4" y1="1423.90" y2="1423.90" stroke="#BFBF31" stroke-width="2"/>
<circle cx="578.3" cy="1423.90" r="5" fill="#BFBF31"/>
<text x="592.4" y="1434.10" font-size="29.4" fill="#000">Subject 2</text>
<line x1="571.3" x2="585.4" y1="1461.65" y2="1461.65" stroke="#E8838A" stroke-width="2"/>
<circle cx="578.3" cy="1461.65" r="5" fill="#E8838A"/>
<text x="592.4" y="1471.85" font-size="29.4" fill="#000">Subject 3</text>
<line x1="571.3" x2="585.4" y1="1499.40" y2="1499.40" stroke="#5A9AB5" stroke-width="2"/>
<circle cx="578.3" cy="1499.40" r="5" fill="#5A9AB5"/>
<text x="592.4" y="1509.60" font-size="29.4" fill="#000">Subject 4</text>
<line x1="571.3" x2="585.4" y1="1537.15" y2="1537.15" stroke="#6CBE31" stroke-width="2"/>
<circle cx="578.3" cy="1537.15" r="5" fill="#6CBE31"/>
<text x="592.4" y="1547.35" font-size="29.4" fill="#000">Subject 5</text>
<line x1="571.3" x2="585.4" y1="1574.90" y2="1574.90" stroke="#E3811F" stroke-width="2"/>
<circle cx="578.3" cy="1574.90" r="5" fill="#E3811F"/>
<text x="592.4" y="1585.10" font-size="29.4" fill="#000">Subject 6</text>
</svg></body></html>
